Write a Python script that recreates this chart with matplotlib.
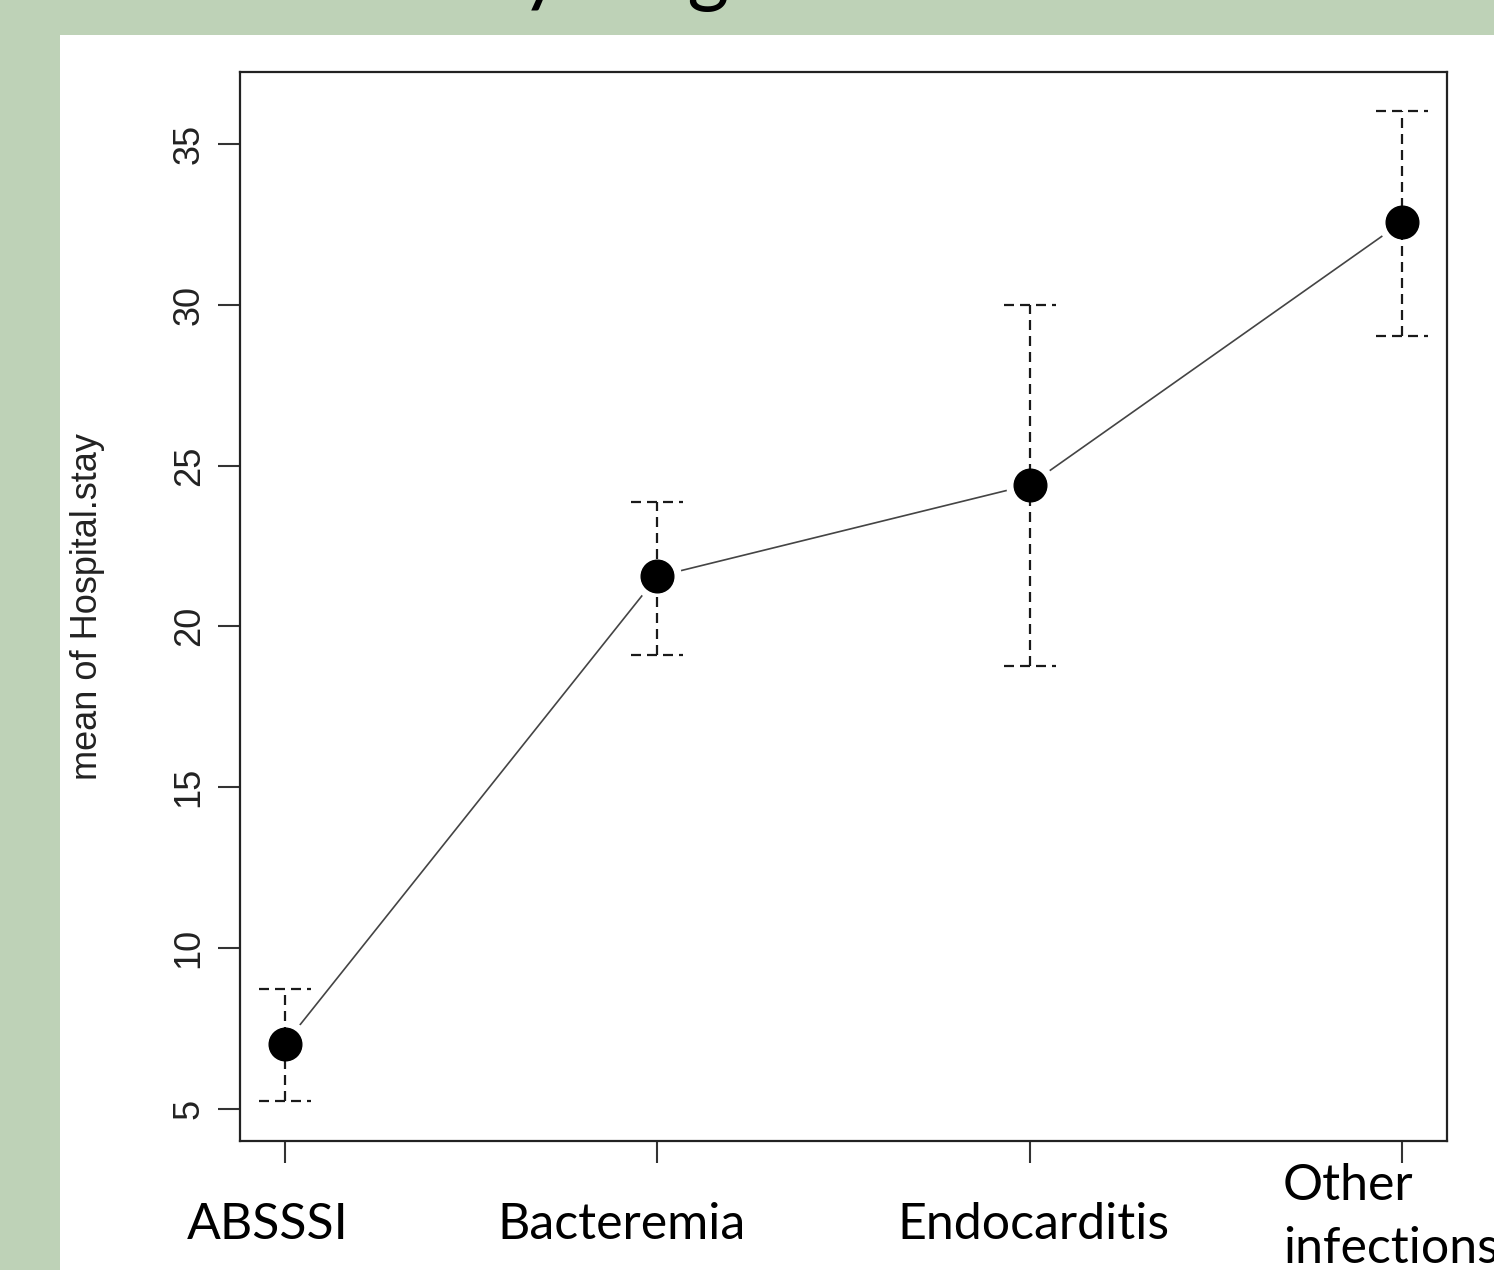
import matplotlib
matplotlib.use("Agg")
import matplotlib.pyplot as plt
from matplotlib.patches import Rectangle

# data
groups = ["ABSSSI", "Bacteremia", "Endocarditis", "Other\ninfections"]
means = [7.02, 21.55, 24.40, 32.57]
upper = [8.73, 23.87, 30.00, 36.02]
lower = [5.22, 19.11, 18.77, 29.03]
yticks = [5, 10, 15, 20, 25, 30, 35]

W, H = 1494, 1270
BG = "#bed2b7"
INK = "#1a1a1a"


def main():
    fig = plt.figure(figsize=(W / 100, H / 100), dpi=100)
    fig.patch.set_facecolor(BG)

    # white slide panel
    fig.patches.append(Rectangle((60 / W, 0), 1434 / W, 1235 / H,
                                 transform=fig.transFigure, facecolor="white",
                                 edgecolor="none", zorder=-5))

    # title cut off at the top edge, only descenders visible
    fig.text(476 / W, 1 + 4 / H, "by diagnosis", family="Lato", fontsize=58,
             ha="left", va="baseline", color="black")

    ax = fig.add_axes([240 / W, 1 - 1141 / H, 1207 / W, 1069 / H])
    ax.set_zorder(2)
    ax.set_facecolor("white")
    xs = list(range(1, len(groups) + 1))

    # connecting line with small gaps around the points (R type="b")
    ax.plot(xs, means, color="#444444", lw=1.2, zorder=2)
    ax.plot(xs, means, "o", ms=35, color="white", mec="none", zorder=3)

    dash = (0, (4.5, 2.7))
    cap = 0.07
    ax.vlines(xs, lower, upper, colors=INK, lw=1.6, linestyles=[dash], zorder=4)
    ax.hlines(upper, [x - cap for x in xs], [x + cap for x in xs],
              colors=INK, lw=1.6, linestyles=[dash], zorder=4)
    ax.hlines(lower, [x - cap for x in xs], [x + cap for x in xs],
              colors=INK, lw=1.6, linestyles=[dash], zorder=4)
    ax.plot(xs, means, "o", ms=23.5, color="black", zorder=5)

    ax.set_xlim(0.879, 4.121)
    ax.set_ylim(3.99, 37.24)
    ax.set_yticks(yticks)
    ax.set_yticklabels([str(v) for v in yticks], rotation=90, va="center",
                       family="Liberation Sans", fontsize=26, color="#222222")
    ax.set_xticks(xs)
    ax.set_xticklabels([])
    ax.tick_params(direction="out", length=16, width=1.5, color="#333333")
    ax.tick_params(axis="y", pad=8)
    for sp in ax.spines.values():
        sp.set_linewidth(1.6)
        sp.set_color("#222222")

    ax.set_ylabel("mean of Hospital.stay", family="Liberation Sans",
                  fontsize=26, color="#222222")
    ax.yaxis.set_label_coords(-0.112, 0.5)

    # category labels pasted under the axis
    lab_kw = dict(family="Lato", fontsize=36, color="black", va="baseline")
    fig.text(268 / W, 1 - 1239 / H, groups[0], ha="center", **lab_kw)
    fig.text(622 / W, 1 - 1239 / H, groups[1], ha="center", **lab_kw)
    fig.text(1033 / W, 1 - 1239 / H, groups[2], ha="center", **lab_kw)
    first, second = groups[3].split("\n")
    fig.text(1283 / W, 1 - 1200 / H, first, ha="left", **lab_kw)
    fig.text(1283 / W, 1 - 1263 / H, second, ha="left", **lab_kw)

    fig.savefig("out.png", dpi=100, facecolor=BG)


if __name__ == "__main__":
    main()
